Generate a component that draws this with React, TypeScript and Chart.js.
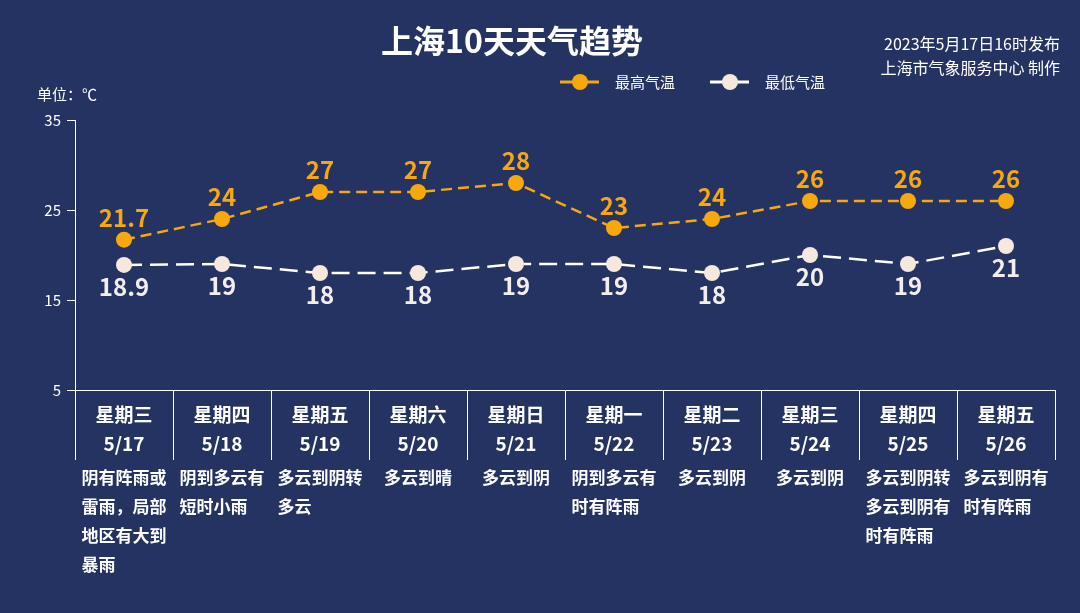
import React, { useEffect, useRef } from "react";
import { Chart, registerables } from "chart.js";

Chart.register(...registerables);

const weekdays = ["星期三", "星期四", "星期五", "星期六", "星期日", "星期一", "星期二", "星期三", "星期四", "星期五"];
const dates = ["5/17", "5/18", "5/19", "5/20", "5/21", "5/22", "5/23", "5/24", "5/25", "5/26"];
const highTemps = [21.7, 24, 27, 27, 28, 23, 24, 26, 26, 26];
const lowTemps = [18.9, 19, 18, 18, 19, 19, 18, 20, 19, 21];
const weatherText = [
  "阴有阵雨或雷雨，局部地区有大到暴雨",
  "阴到多云有短时小雨",
  "多云到阴转多云",
  "多云到晴",
  "多云到阴",
  "阴到多云有时有阵雨",
  "多云到阴",
  "多云到阴",
  "多云到阴转多云到阴有时有阵雨",
  "多云到阴有时有阵雨",
];
const yTicks = [35, 25, 15, 5];

const TITLE = "上海10天天气趋势";
const INFO1 = "2023年5月17日16时发布";
const INFO2 = "上海市气象服务中心 制作";
const UNIT = "单位：℃";
const LEGEND_HIGH = "最高气温";
const LEGEND_LOW = "最低气温";

const BG = "#243362";
const ORANGE = "#F6A80C";
const CREAM = "#F6E8DC";
const FONT = "'Noto Sans CJK SC', 'Noto Sans', sans-serif";

function splitLines(s: string, n: number): string[] {
  const out: string[] = [];
  const chars = Array.from(s);
  for (let i = 0; i < chars.length; i += n) out.push(chars.slice(i, i + n).join(""));
  return out;
}

const overlayPlugin = {
  id: "overlay",
  afterDraw(chart: any) {
    const ctx = chart.ctx as CanvasRenderingContext2D;
    ctx.save();
    // Title
    ctx.fillStyle = "#ffffff";
    ctx.textAlign = "center";
    ctx.textBaseline = "middle";
    ctx.font = `bold 32px ${FONT}`;
    ctx.fillText(TITLE, 512, 41);
    // Info
    ctx.textAlign = "right";
    ctx.font = `16px ${FONT}`;
    ctx.fillText(INFO1, 1060, 44);
    ctx.fillText(INFO2, 1060, 68);
    // Unit
    ctx.textAlign = "left";
    ctx.font = `15px ${FONT}`;
    ctx.fillText(UNIT, 37, 94);
    // Legend
    const items = [
      { x: 560, color: ORANGE, fill: ORANGE, label: LEGEND_HIGH },
      { x: 710, color: "#ffffff", fill: CREAM, label: LEGEND_LOW },
    ];
    items.forEach((it) => {
      const y = 82;
      ctx.strokeStyle = it.color;
      ctx.lineWidth = 3;
      ctx.beginPath();
      ctx.moveTo(it.x, y);
      ctx.lineTo(it.x + 39, y);
      ctx.stroke();
      ctx.fillStyle = it.fill;
      ctx.beginPath();
      ctx.arc(it.x + 20, y, 8, 0, Math.PI * 2);
      ctx.fill();
      ctx.fillStyle = "#ffffff";
      ctx.font = `15px ${FONT}`;
      ctx.textAlign = "left";
      ctx.fillText(it.label, it.x + 55, y);
    });
    // Value labels
    const metaHigh = chart.getDatasetMeta(0);
    const metaLow = chart.getDatasetMeta(1);
    ctx.font = `bold 24px ${FONT}`;
    ctx.textAlign = "center";
    ctx.textBaseline = "middle";
    metaHigh.data.forEach((p: any, i: number) => {
      ctx.fillStyle = ORANGE;
      ctx.fillText(String(highTemps[i]), p.x, p.y - 22);
    });
    metaLow.data.forEach((p: any, i: number) => {
      ctx.fillStyle = "#F2EEEE";
      ctx.fillText(String(lowTemps[i]), p.x, p.y + 22);
    });
    // Weather descriptions
    const xScale = chart.scales.x;
    ctx.font = `bold 17px ${FONT}`;
    ctx.fillStyle = "#ffffff";
    ctx.textAlign = "left";
    weatherText.forEach((t, i) => {
      const lines = splitLines(t, 5);
      const maxW = Math.max(...lines.map((l) => ctx.measureText(l).width));
      const cx = xScale.getPixelForTick(i);
      const sx = cx - maxW / 2;
      lines.forEach((l, j) => {
        ctx.fillText(l, sx, 478 + j * 29);
      });
    });
    ctx.restore();
  },
};

export default function App() {
  const ref = useRef<HTMLCanvasElement>(null);
  useEffect(() => {
    document.body.style.margin = "0";
    const chart = new Chart(ref.current!, {
      type: "line",
      data: {
        labels: weekdays.map((w, i) => [w, dates[i]]),
        datasets: [
          {
            label: LEGEND_HIGH,
            data: highTemps,
            borderColor: ORANGE,
            backgroundColor: ORANGE,
            borderWidth: 2.5,
            borderDash: [11, 6],
            pointRadius: 8,
            pointBorderWidth: 0,
            pointBackgroundColor: ORANGE,
            tension: 0,
          },
          {
            label: LEGEND_LOW,
            data: lowTemps,
            borderColor: "#ffffff",
            backgroundColor: CREAM,
            borderWidth: 2.5,
            borderDash: [18, 8],
            pointRadius: 8,
            pointBorderWidth: 0,
            pointBackgroundColor: CREAM,
            tension: 0,
          },
        ],
      },
      options: {
        animation: false,
        responsive: false,
        layout: { padding: { left: 35, right: 25, top: 120, bottom: 23 } },
        plugins: {
          legend: { display: false },
          tooltip: { enabled: false },
          title: { display: false },
        },
        scales: {
          x: {
            offset: true,
            border: { color: "#ffffff", width: 1 },
            grid: {
              offset: true,
              drawOnChartArea: false,
              drawTicks: true,
              tickLength: 70,
              color: "#ffffff",
              lineWidth: 1,
            },
            ticks: {
              color: "#ffffff",
              font: { family: FONT, size: 19, weight: "bold", lineHeight: 1.5 },
              padding: -59,
              maxRotation: 0,
              autoSkip: false,
            },
            afterFit: (s: any) => {
              s.height = 200;
            },
          },
          y: {
            min: 5,
            max: 35,
            border: { color: "#ffffff", width: 1 },
            grid: {
              drawOnChartArea: false,
              drawTicks: true,
              tickLength: 8,
              color: "#ffffff",
            },
            afterBuildTicks: (s: any) => {
              s.ticks = yTicks.map((v) => ({ value: v }));
            },
            ticks: {
              color: "#ffffff",
              font: { family: FONT, size: 15 },
              padding: 6,
            },
            afterFit: (s: any) => {
              s.width = 40;
            },
          },
        },
      },
      plugins: [overlayPlugin],
    });
    return () => chart.destroy();
  }, []);
  return (
    <div style={{ position: "fixed", left: 0, top: 0, width: 1080, height: 613, background: BG }}>
      <canvas ref={ref} width={1080} height={613} style={{ display: "block" }} />
    </div>
  );
}
